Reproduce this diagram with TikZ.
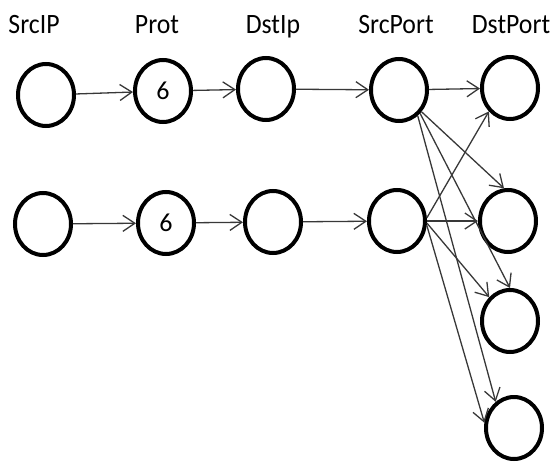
\documentclass[tikz,border=0pt]{standalone}
\usepackage{fontspec}
\setmainfont{Carlito}
\newfontfamily\headfont[FakeStretch=0.92]{Carlito}
\usetikzlibrary{shapes.geometric,arrows.meta}
\begin{document}
\begin{tikzpicture}[x=1pt,y=-1pt,
  state/.style={ellipse,draw,line width=4pt,minimum width=56pt,minimum height=62pt,
    inner sep=0pt,font=\fontsize{26}{28}\selectfont},
  head/.style={font=\headfont\fontsize{28}{30}\selectfont,anchor=base,inner sep=0pt},
  link/.style={draw=black!78,line width=1.3pt,-{Straight Barb[length=12pt,width=16pt]}}]
\useasboundingbox (0,0) rectangle (552,466);

% column headings
\node[head] (hsrcip)   at (34,33)  {SrcIP};
\node[head] (hprot)    at (157,33) {Prot};
\node[head] (hdstip)   at (273,33) {DstIp};
\node[head] (hsrcport) at (396,33) {SrcPort};
\node[head] (hdstport) at (511,33) {DstPort};

% first flow
\node[state] (s1)  at (46,95)  {};
\node[state] (p1)  at (163,91) {6};
\node[state] (d1)  at (266,89) {};
\node[state] (sp1) at (399,90) {};
\node[state] (dp1) at (510,88) {};

% second flow
\node[state] (s2)  at (43,224)  {};
\node[state] (p2)  at (166,223) {6};
\node[state] (d2)  at (273,222) {};
\node[state] (sp2) at (397,221) {};
\node[state] (dp2) at (508,221) {};

% further destination ports
\node[state] (dp3) at (510,321) {};
\node[state] (dp4) at (514,428) {};

% chains
\draw[link] (s1) -- (p1);
\draw[link] (p1) -- (d1);
\draw[link] (d1) -- (sp1);
\draw[link] (sp1) -- (dp1);
\draw[link] (s2) -- (p2);
\draw[link] (p2) -- (d2);
\draw[link] (d2) -- (sp2);
\draw[link] (sp2.0) -- (dp2.180);

% fan-out from the source ports
\draw[link] (sp1.-44) -- (dp2.97);
\draw[link] (sp1.-48) -- (dp3.90);
\draw[link] (sp1.-54) -- (dp4.125);
\draw[link] (sp2.6) -- (dp1.-132);
\draw[link] (sp2.-4) -- (dp3.131);
\draw[link] (sp2.-8) -- (dp4.170);
\end{tikzpicture}
\end{document}
